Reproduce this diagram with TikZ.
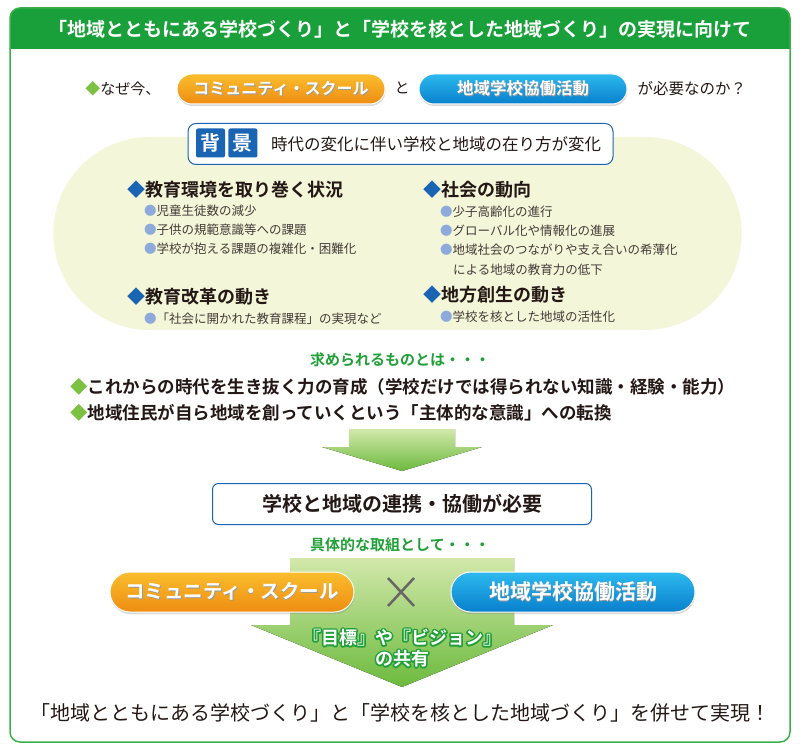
\documentclass[tikz,border=0pt]{standalone}
\usepackage{fontspec}
\setmainfont{Noto Sans CJK JP}[BoldFont={Noto Sans CJK JP Bold}]
\usetikzlibrary{shapes.misc, positioning, shadows, calc}
\definecolor{titlegreen}{RGB}{26,160,58}
\definecolor{framegreen}{RGB}{60,174,74}
\definecolor{leafgreen}{RGB}{125,193,67}
\definecolor{textgreen}{RGB}{34,160,56}
\definecolor{csorange}{RGB}{250,190,45}
\definecolor{csorangedark}{RGB}{238,140,18}
\definecolor{chblue}{RGB}{45,185,238}
\definecolor{chbluedark}{RGB}{8,128,205}
\definecolor{navy}{RGB}{26,100,180}
\definecolor{dotblue}{RGB}{142,170,219}
\definecolor{paleleaf}{RGB}{243,246,216}
\definecolor{inkdark}{RGB}{35,24,21}
\definecolor{arrowtop}{RGB}{210,232,170}
\definecolor{arrowbottom}{RGB}{108,186,62}

\newcommand{\fsz}[1]{\fontsize{#1}{#1}\selectfont}
\newcommand{\shadowed}[1]{\makebox[0pt][l]{\kern0.8pt\raisebox{-0.9pt}{\color{black!40}#1}}#1}
% green rim drawn behind the white letters (stroke-only render mode)
\newcommand{\rimonly}[1]{\special{pdf:literal direct 0.133 0.627 0.22 RG 3.2 w 1 j 1 Tr}#1\special{pdf:literal direct 0 Tr}}

\begin{document}
\begin{tikzpicture}[
    x=1pt, y=-1pt,
    pill/.style={rounded rectangle, draw=white, line width=1pt, inner sep=0pt,
        text=white, font=\bfseries\fsz{#1},
        drop shadow={shadow xshift=0.5pt, shadow yshift=-2pt, opacity=0.3}},
    orangepill/.style={pill=#1, top color=csorange, bottom color=csorangedark},
    bluepill/.style={pill=#1, top color=chblue, bottom color=chbluedark},
    plain/.style={inner sep=0pt, font=\fsz{#1}, text=inkdark},
    heading/.style={anchor=west, inner sep=0pt, font=\bfseries\fsz{18}, text=inkdark},
    item/.style={anchor=west, inner sep=0pt, font=\fsz{12.5}, text=inkdark!85},
    point/.style={anchor=west, inner sep=0pt, font=\bfseries\fsz{17.5}, text=inkdark},
    cue/.style={inner sep=0pt, font=\bfseries\fsz{15}, text=textgreen},
    kanjibox/.style={fill=navy, rounded corners=2pt, minimum size=29pt, inner sep=0pt,
        text=white, font=\bfseries\fsz{20}},
    bigarrow/.style={top color=arrowtop, bottom color=arrowbottom},
    sharetext/.style={align=center, inner sep=0pt, font=\bfseries\fontsize{18}{21}\selectfont},
]
\useasboundingbox (0,0) rectangle (800,751);

% Frame and title band
\begin{scope}
  \clip[rounded corners=10pt] (10,8) rectangle (790,742);
  \fill[titlegreen] (10,8) rectangle (790,49);
\end{scope}
\draw[framegreen, line width=1.5pt, rounded corners=10pt] (10,8) rectangle (790,742);
\node[inner sep=0pt, font=\bfseries\fsz{19}, text=white] (title) at (400,29)
    {「地域とともにある学校づくり」と「学校を核とした地域づくり」の実現に向けて};

% Row 1: question
\node[orangepill=16, minimum width=208pt, minimum height=30pt] (cs1) at (281,89) {\shadowed{コミュニティ・スクール}};
\node[bluepill=16.5, minimum width=208pt, minimum height=30pt] (ch1) at (523,89) {\shadowed{地域学校協働活動}};
\node[plain=15, anchor=east, left=16pt of cs1] (why1) {\textcolor{leafgreen}{◆}なぜ今、};
\node[plain=15] (why2) at (402,88) {と};
\node[plain=15.5, anchor=west, right=10pt of ch1] (why3) {が必要なのか？};

% Background cloud
\node[rounded rectangle, fill=paleleaf, minimum width=695pt, minimum height=193pt] (bg) at (397.5,233.5) {};
\node[draw=navy, line width=1pt, fill=white, rounded corners=8pt, minimum width=425pt, minimum height=41pt] (head) at (400.5,144) {};
\node[kanjibox] (sq1) at (210.5,143) {背};
\node[kanjibox, right=3pt of sq1] (sq2) {景};
\node[plain=16.5, anchor=west] (headtxt) at (271,144) {時代の変化に伴い学校と地域の在り方が変化};

% Left column
\node[heading] (env) at (127,190) {\textcolor{navy}{◆}教育環境を取り巻く状況};
\foreach \txt [count=\i] in {児童生徒数の減少, 子供の規範意識等への課題, 学校が抱える課題の複雑化・困難化}
  \node[item] (env\i) at (144,192+19*\i) {\textcolor{dotblue}{●}\txt};
\node[heading] (reform) at (127,297) {\textcolor{navy}{◆}教育改革の動き};
\node[item] (reform1) at (144,319) {\textcolor{dotblue}{●}「社会に開かれた教育課程」の実現など};

% Right column
\node[heading] (soc) at (423,190) {\textcolor{navy}{◆}社会の動向};
\foreach \txt [count=\i] in {少子高齢化の進行, グローバル化や情報化の進展, 地域社会のつながりや支え合いの希薄化}
  \node[item] (soc\i) at (440,192+19.3*\i) {\textcolor{dotblue}{●}\txt};
\node[item] (soc4) at (453,270) {による地域の教育力の低下};
\node[heading] (local) at (423,295) {\textcolor{navy}{◆}地方創生の動き};
\node[item] (local1) at (440,317) {\textcolor{dotblue}{●}学校を核とした地域の活性化};

% Needs
\node[cue] (need) at (400,360) {求められるものとは・・・};
\node[point] (pt1) at (70,387) {\textcolor{leafgreen}{◆}これからの時代を生き抜く力の育成（学校だけでは得られない知識・経験・能力）};
\node[point] (pt2) at (70,413) {\textcolor{leafgreen}{◆}地域住民が自ら地域を創っていくという「主体的な意識」への転換};

% Arrow down to collaboration
\fill[bigarrow] (349,429) -- (455,429) -- (455,447) -- (482,447) -- (402,471) -- (322,447) -- (349,447) -- cycle;
\node[draw=navy, line width=1pt, fill=white, rounded corners=6pt, minimum width=379pt, minimum height=41pt,
    font=\bfseries\fsz{20}, text=inkdark] (link) at (402,504) {学校と地域の連携・協働が必要};
\node[cue] (way) at (400,545) {具体的な取組として・・・};

% Big arrow with both activities
\fill[bigarrow] (290,558) -- (514,558) -- (514,625) -- (553,625) -- (402,687) -- (251,625) -- (290,625) -- cycle;
\node[orangepill=19.5, minimum width=244pt, minimum height=40pt] (cs2) at (232,592) {\shadowed{コミュニティ・スクール}};
\node[bluepill=21, minimum width=244pt, minimum height=40pt] (ch2) at (573,592) {\shadowed{地域学校協働活動}};
\draw[black!60, line width=2.5pt] (388,578) -- (414,606) (414,578) -- (388,606);
\node[sharetext, text=textgreen] (sharerim) at (402,648) {\rimonly{『目標』や『ビジョン』}\\\rimonly{の共有}};
\node[sharetext, text=white] (share) at (402,648) {『目標』や『ビジョン』\\の共有};

% Goal
\node[plain=20] (goal) at (400,713) {「地域とともにある学校づくり」と「学校を核とした地域づくり」を併せて実現！};

\end{tikzpicture}
\end{document}
